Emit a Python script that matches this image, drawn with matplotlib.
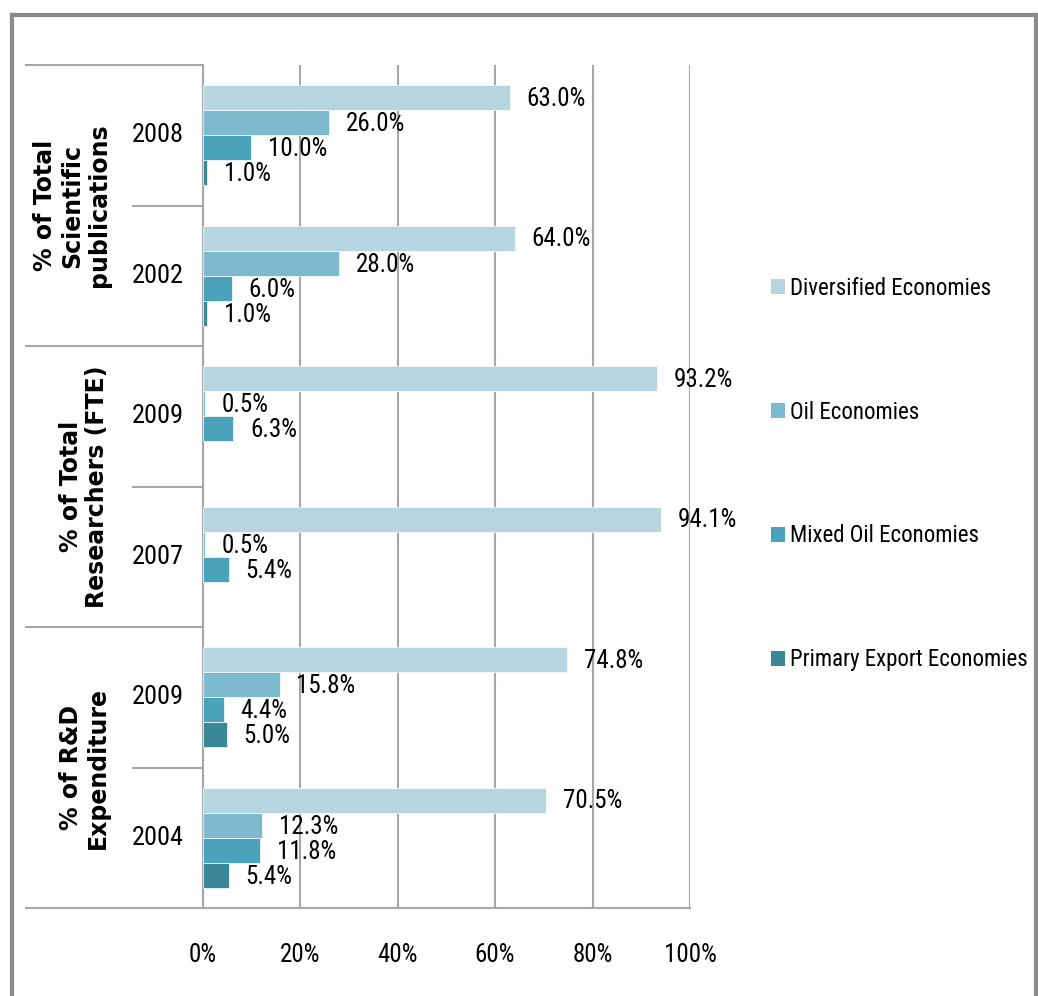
import numpy as np
import matplotlib
matplotlib.use("Agg")
import matplotlib.pyplot as plt
from matplotlib.lines import Line2D
from matplotlib.patches import Patch
import matplotlib.transforms as mtransforms

# data, listed top to bottom as in the chart
years = ['2008', '2002', '2009', '2007', '2009', '2004']
diversified = [63.0, 64.0, 93.2, 94.1, 74.8, 70.5]
oil = [26.0, 28.0, 0.5, 0.5, 15.8, 12.3]
mixed = [10.0, 6.0, 6.3, 5.4, 4.4, 11.8]
primary = [1.0, 1.0, np.nan, np.nan, 5.0, 5.4]

series_names = ['Diversified Economies', 'Oil Economies',
                'Mixed Oil Economies', 'Primary Export Economies']
colors = ['#B7D5E0', '#7DBACE', '#4AA3BA', '#3A8797']
categories = ['% of Total\nScientific\npublications',
              '% of Total\nResearchers (FTE)',
              '% of R&D\nExpenditure']

narrow = ['Liberation Sans Narrow', 'DejaVu Sans Condensed', 'Roboto Condensed',
          'Open Sans Condensed', 'DejaVu Sans']
plt.rcParams['font.family'] = narrow

W, H = 1038, 996
fig = plt.figure(figsize=(W / 100, H / 100), dpi=100)
ax = fig.add_axes([202.5 / W, 1 - 908 / H, 487.5 / W, 843 / H])

pos = np.arange(len(years))[::-1]  # top group at the top
h = 0.1786
offsets = [1.5 * h, 0.5 * h, -0.5 * h, -1.5 * h]
gray = '#A6A6A6'

for vals, name, c, off in zip([diversified, oil, mixed, primary],
                              series_names, colors, offsets):
    vals = np.array(vals, dtype=float)
    ok = ~np.isnan(vals)
    ax.barh(pos[ok] + off, vals[ok], height=h, color=c,
            edgecolor='white', linewidth=0.5, label=name, zorder=3)
    for y, v in zip(pos[ok] + off, vals[ok]):
        ax.annotate(f'{v:.1f}%', (v, y), xytext=(12, -1),
                    textcoords='offset points', ha='left', va='center',
                    fontsize=18, zorder=4)

ax.set_xlim(0, 100)
ax.set_ylim(-0.5, 5.5)
ax.set_xticks(np.arange(0, 101, 20))
ax.set_xticklabels([f'{t}%' for t in range(0, 101, 20)], fontsize=18)
ax.tick_params(axis='x', length=0, pad=25.5)
ax.set_yticks([])
ax.grid(axis='x', color=gray, linewidth=1.5, zorder=0)
for s in ['top', 'right', 'bottom']:
    ax.spines[s].set_visible(False)
ax.spines['left'].set_color(gray)
ax.spines['left'].set_linewidth(1.5)

# category table on the left
trans = mtransforms.blended_transform_factory(ax.transAxes, ax.transData)
x_out = (26 - 202.5) / 487.5
x_in = (133 - 202.5) / 487.5
x_end = (690 - 202.5) / 487.5
for yb in [5.5, 3.5, 1.5]:
    ax.add_line(Line2D([x_out, 0], [yb, yb], transform=trans, color=gray,
                       lw=1.5, clip_on=False))
ax.add_line(Line2D([x_out, x_end], [-0.5, -0.5], transform=trans, color=gray,
                   lw=1.5, clip_on=False))
for yb in [4.5, 2.5, 0.5]:
    ax.add_line(Line2D([x_in, 0], [yb, yb], transform=trans, color=gray,
                       lw=1.5, clip_on=False))

for y, yr in zip(pos, years):
    ax.text((158 - 202.5) / 487.5, y, yr, transform=trans, ha='center',
            va='center', fontsize=19)

cat_x = [(72 - 202.5) / 487.5, (84 - 202.5) / 487.5, (84 - 202.5) / 487.5]
for cx, yc, lab in zip(cat_x, [4.5, 2.5, 0.5], categories):
    ax.text(cx, yc, lab, transform=trans, rotation=90, ha='center',
            va='center', fontsize=17, fontweight='bold',
            family='DejaVu Sans', multialignment='center', linespacing=1.15)

# legend
handles = [Patch(facecolor=c, edgecolor='none') for c in colors]
fig.legend(handles, series_names, loc='center left',
           bbox_to_anchor=(771 / W, 1 - 474 / H), frameon=False,
           fontsize=16.5, labelspacing=4.4, handlelength=0.62,
           handleheight=0.62, handletextpad=0.2, borderpad=0,
           borderaxespad=0)

# outer frame
fc = '#8C8C8C'
fig.add_artist(Line2D([12 / W, 12 / W], [0, 1 - 15 / H], color=fc, lw=3))
fig.add_artist(Line2D([12 / W, 1036 / W], [1 - 15 / H, 1 - 15 / H], color=fc, lw=3))
fig.add_artist(Line2D([1036 / W, 1036 / W], [0, 1 - 15 / H], color=fc, lw=3))

fig.savefig('out.png', dpi=100, facecolor='white')
